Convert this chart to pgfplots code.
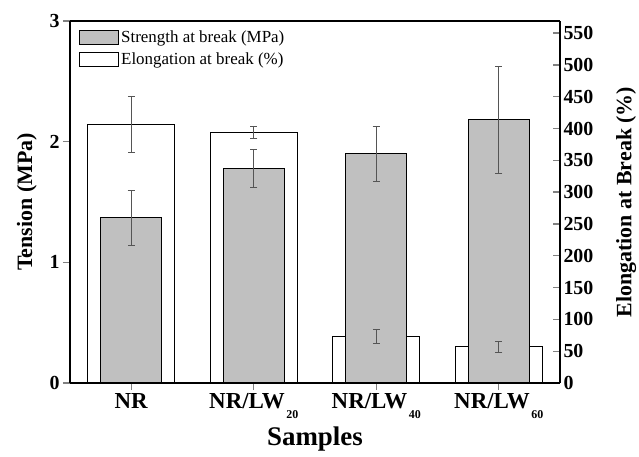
\documentclass[border=0pt]{standalone}
\usepackage{fontspec}
\setmainfont{Liberation Serif}
\usepackage{pgfplots}
\pgfplotsset{compat=1.18}

\definecolor{barg}{RGB}{192,192,192}
\definecolor{errg}{RGB}{85,85,85}

% lowered small subscript like in the figure
\newcommand{\lw}[1]{NR/LW\kern1.5bp\raisebox{-0.42em}{\fontsize{12}{12}\selectfont #1}}

% strength at break (MPa), left axis
\pgfplotstableread{
x  y     e
0  1.37  0.23
1  1.78  0.155
2  1.90  0.23
3  2.18  0.445
}\strength
% elongation at break (%), right axis
\pgfplotstableread{
x  y      e
0  407    44
1  393.5  9.5
2  73     11
3  57     8.5
}\elong

\pgfplotsset{
  common/.style={
    scale only axis, width=490bp, height=362bp,
    xmin=-0.5, xmax=3.5,
    axis line style={line width=1.6pt},
    major tick style={line width=1.3pt},
    major tick length=7bp,
    yticklabel style={font=\bfseries\fontsize{20}{20}\selectfont},
    xticklabel style={font=\bfseries\fontsize{23}{23}\selectfont},
    /pgf/number format/assume math mode=true,
  },
  ebars/.style={
    draw=none, no markers, forget plot,
    error bars/.cd, y dir=both, y explicit,
    error bar style={draw=errg, line width=0.6pt},
    error mark options={draw=errg, rotate=90, line width=0.6pt, mark size=3.5bp},
  },
}

\begin{document}
\begin{tikzpicture}
% right axis with the elongation bars
\begin{axis}[common,
  axis x line=none,
  axis y line*=right,
  ymin=0, ymax=569,
  ytick={0,50,...,550},
  tick align=inside,
  ylabel={\bfseries Elongation at Break (\%)},
  ylabel style={font=\fontsize{22}{22}\selectfont},
  ylabel shift=16bp,
]
\addplot[ybar, bar width=0.71, fill=white, draw=black, line width=1.1pt]
  table[x=x, y=y] {\elong};
\end{axis}
% left axis with the strength bars
\begin{axis}[common,
  axis x line*=bottom,
  axis y line*=left,
  ymin=0, ymax=3,
  ytick={0,1,2,3},
  xtick={0,1,2,3},
  xticklabels={NR, \lw{20}, \lw{40}, \lw{60}},
  tick align=outside,
  xlabel={\bfseries Samples},
  xlabel style={font=\fontsize{27}{27}\selectfont},
  xlabel shift=2bp,
  ylabel={\bfseries Tension (MPa)},
  ylabel style={font=\fontsize{22}{22}\selectfont},
  ylabel shift=6bp,
  legend style={at={(0.012,0.985)}, anchor=north west, draw=none, fill=none,
    font=\fontsize{17}{17}\selectfont, row sep=5bp},
  legend cell align=left,
  legend image code/.code={\draw[#1, line width=1.1pt] (0bp,-7bp) rectangle (39bp,7bp);},
]
\addplot[ybar, bar width=0.5, fill=barg, draw=black, line width=1.1pt]
  table[x=x, y=y] {\strength};
\addlegendentry{Strength at break (MPa)}
\addlegendimage{fill=white, draw=black}
\addlegendentry{Elongation at break (\%)}
\addplot[ebars] table[x=x, y=y, y error=e] {\strength};
\draw[line width=1.6pt] (rel axis cs:0,1) -- (rel axis cs:1,1);
\end{axis}
% error bars of the elongation, drawn over the grey bars
\begin{axis}[common, hide axis, ymin=0, ymax=569]
\addplot[ebars] table[x=x, y=y, y error=e] {\elong};
\end{axis}
\pgfresetboundingbox
\path ([shift={(-70bp,-74bp)}]current axis.south west)
  rectangle ([shift={(79bp,21bp)}]current axis.north east);
\end{tikzpicture}
\end{document}
